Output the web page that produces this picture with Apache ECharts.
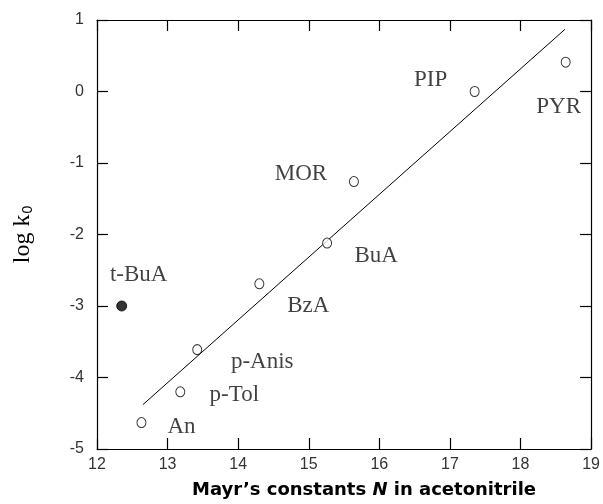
<!DOCTYPE html>
<html>
<head>
<meta charset="utf-8">
<script src="https://cdn.jsdelivr.net/npm/echarts@6/dist/echarts.min.js"></script>
<style>html,body{margin:0;padding:0;background:#fff}#c{width:603px;height:504px}</style>
</head>
<body>
<div id="c"></div>
<script>
// Data
const names = ['An', 'p-Tol', 'p-Anis', 'BzA', 'BuA', 'MOR', 'PIP', 'PYR'];
const nValues = [12.63, 13.18, 13.42, 14.30, 15.26, 15.64, 17.35, 18.64];
const logK0 = [-4.63, -4.20, -3.61, -2.69, -2.12, -1.26, 0.00, 0.41];
const outlierName = ['t-BuA'];
const outlierN = [12.35];
const outlierLogK0 = [-3.00];
const fitX = [12.65, 18.63];
const fitY = [-4.38, 0.87];
const xTicks = [12, 13, 14, 15, 16, 17, 18, 19];
const yTicks = [-5, -4, -3, -2, -1, 0, 1];

// label placement (pixels, relative to point)
const labelOffsets = {
  'An': [40, 4], 'p-Tol': [54, 3], 'p-Anis': [65, 12], 'BzA': [49, 22],
  'BuA': [49, 13], 'MOR': [-53, -8], 'PIP': [-44, -12], 'PYR': [-7, 45], 't-BuA': [17, -31]
};
const labelFont = {fontFamily: 'Liberation Serif', fontSize: 23, color: '#111'};

const chart = echarts.init(document.getElementById('c'), null, {renderer: 'canvas'});
const openData = names.map((n, i) => ({
  value: [nValues[i], logK0[i]], name: n,
  label: {show: true, formatter: n, position: 'inside', offset: labelOffsets[n], ...labelFont}
}));
const filledData = outlierName.map((n, i) => ({
  value: [outlierN[i], outlierLogK0[i]], name: n,
  label: {show: true, formatter: n, position: 'inside', offset: labelOffsets[n], ...labelFont}
}));
const axisLine = {show: true, onZero: false, lineStyle: {color: '#000', width: 1.2}};
const tick = {show: true, inside: true, length: 11, lineStyle: {color: '#000', width: 1.2}};
const tickLabel = {fontFamily: 'Liberation Sans', fontSize: 16, color: '#333'};
chart.setOption({
  animation: false,
  backgroundColor: '#fff',
  grid: {left: 97, right: 10, top: 20, bottom: 52},
  xAxis: [{
    type: 'value', position: 'bottom', min: xTicks[0], max: xTicks[xTicks.length - 1], interval: 1,
    axisLine, axisTick: tick, splitLine: {show: false},
    axisLabel: {...tickLabel, margin: 8, formatter: v => xTicks.includes(v) ? String(v) : ''},
    name: '{a|Mayr\u2019s constants }{n|N}{a| in acetonitrile}',
    nameLocation: 'middle', nameGap: 32,
    nameTextStyle: {padding: [0, 0, 0, 40], rich: {
      a: {fontFamily: 'DejaVu Sans', fontWeight: 'bold', fontSize: 18, color: '#000'},
      n: {fontFamily: 'DejaVu Sans', fontWeight: 'bold', fontStyle: 'italic', fontSize: 18, color: '#000'}
    }}
  }, {
    type: 'value', position: 'top', min: xTicks[0], max: xTicks[xTicks.length - 1], interval: 1,
    axisLine, axisTick: tick, axisLabel: {show: false}, splitLine: {show: false}
  }],
  yAxis: [{
    type: 'value', position: 'left', min: yTicks[0], max: yTicks[yTicks.length - 1], interval: 1,
    axisLine, axisTick: tick, splitLine: {show: false},
    axisLabel: {...tickLabel, margin: 13},
    name: '{a|log k}{s|0}', nameLocation: 'middle', nameGap: 62, nameRotate: 90,
    nameTextStyle: {rich: {
      a: {fontFamily: 'Liberation Serif', fontSize: 24, color: '#000'},
      s: {fontFamily: 'Liberation Sans', fontSize: 14, color: '#000', padding: [10, 0, 0, 1]}
    }}
  }, {
    type: 'value', position: 'right', min: yTicks[0], max: yTicks[yTicks.length - 1], interval: 1,
    axisLine, axisTick: tick, axisLabel: {show: false}, splitLine: {show: false}
  }],
  series: [{
    type: 'line', data: fitX.map((x, i) => [x, fitY[i]]), symbol: 'none',
    lineStyle: {color: '#000', width: 1}, z: 2
  }, {
    type: 'scatter', data: openData, symbol: 'circle', symbolSize: [9, 10],
    itemStyle: {color: '#fff', borderColor: '#000', borderWidth: 1}, z: 3
  }, {
    type: 'scatter', data: filledData, symbol: 'circle', symbolSize: 10,
    itemStyle: {color: '#000', borderColor: '#000', borderWidth: 1}, z: 3
  }]
});
</script>
</body>
</html>
